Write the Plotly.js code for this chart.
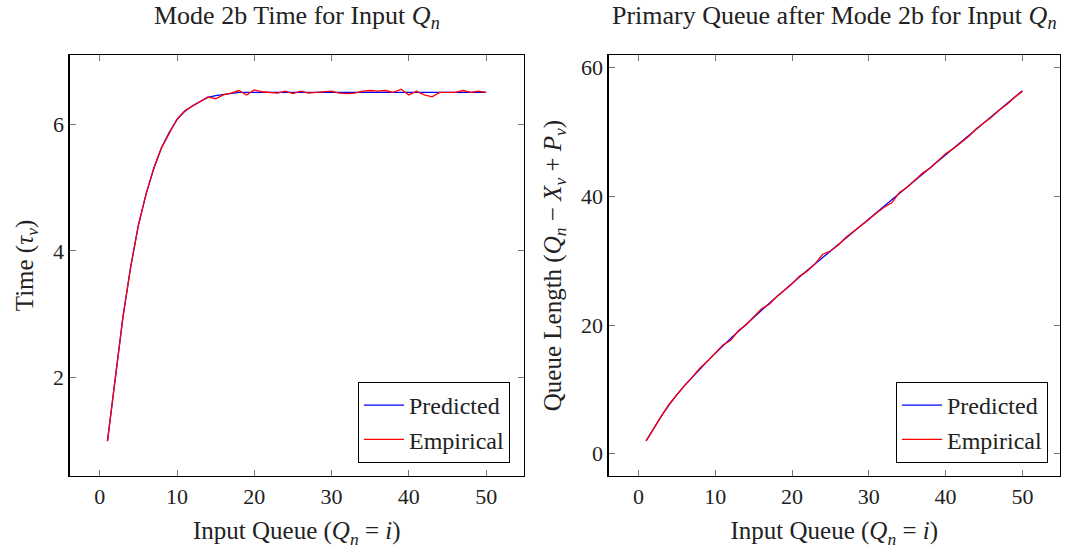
<!DOCTYPE html>
<html>
<head>
<meta charset="utf-8">
<script src="https://cdn.plot.ly/plotly-3.0.1.min.js"></script>
<style>html,body{margin:0;padding:0;background:#fff;}#chart{width:1065px;height:550px;}</style>
</head>
<body>
<div id="chart"></div>
<script>
const inputQueue = [1,2,3,4,5,6,7,8,9,10,11,12,13,14,15,16,17,18,19,20,21,22,23,24,25,26,27,28,29,30,31,32,33,34,35,36,37,38,39,40,41,42,43,44,45,46,47,48,49,50];

const predictedTime = [1.00,2.00,2.95,3.75,4.40,4.90,5.30,5.63,5.87,6.07,6.20,6.29,6.36,6.42,6.45,6.47,6.49,6.50,6.50,6.50,
  6.50,6.50,6.50,6.50,6.50,6.50,6.50,6.50,6.50,6.50,6.50,6.50,6.50,6.50,6.50,6.50,6.50,6.50,6.50,6.50,
  6.50,6.50,6.50,6.50,6.50,6.50,6.50,6.50,6.50,6.50];
const empiricalTime = [1.00,2.00,2.96,3.74,4.41,4.90,5.31,5.63,5.86,6.08,6.21,6.28,6.36,6.43,6.40,6.46,6.49,6.53,6.46,6.54,
  6.51,6.50,6.49,6.52,6.48,6.52,6.49,6.50,6.51,6.52,6.49,6.48,6.49,6.52,6.53,6.52,6.53,6.50,6.55,6.46,
  6.52,6.46,6.43,6.50,6.50,6.50,6.53,6.50,6.52,6.50];

const predictedQueue = [2.0,4.0,5.9,7.6,9.2,10.6,11.9,13.2,14.4,15.6,16.8,17.9,19.0,20.1,21.2,22.3,23.3,24.4,25.4,26.5,
  27.5,28.5,29.5,30.5,31.5,32.5,33.5,34.5,35.5,36.5,37.5,38.5,39.5,40.5,41.5,42.5,43.5,44.5,45.5,46.5,
  47.4,48.4,49.4,50.4,51.4,52.4,53.4,54.4,55.4,56.4];
const empiricalQueue = [2.0,4.0,5.9,7.7,9.2,10.6,11.9,13.3,14.4,15.6,16.9,17.6,19.1,20.0,21.2,22.5,23.2,24.4,25.4,26.4,
  27.6,28.4,29.5,31.0,31.5,32.4,33.6,34.5,35.4,36.4,37.4,38.3,39.0,40.6,41.4,42.5,43.6,44.4,45.5,46.6,
  47.4,48.3,49.3,50.5,51.4,52.3,53.4,54.3,55.4,56.3];

const xTicks = [0,10,20,30,40,50];
const timeTicks = [2,4,6];
const queueTicks = [0,20,40,60];

const FONT = 'Liberation Serif, DejaVu Serif, serif';
const TXT = '#222';
const BLUE = 'rgb(0,0,255)', RED = 'rgb(255,0,0)';

const traces = [
  {x: inputQueue, y: predictedTime, type: 'scatter', mode: 'lines', name: 'Predicted', line: {color: BLUE, width: 1.3}, xaxis: 'x', yaxis: 'y', legend: 'legend'},
  {x: inputQueue, y: empiricalTime, type: 'scatter', mode: 'lines', name: 'Empirical', line: {color: RED, width: 1.3}, xaxis: 'x', yaxis: 'y', legend: 'legend'},
  {x: inputQueue, y: predictedQueue, type: 'scatter', mode: 'lines', name: 'Predicted', line: {color: BLUE, width: 1.3}, xaxis: 'x2', yaxis: 'y2', legend: 'legend2'},
  {x: inputQueue, y: empiricalQueue, type: 'scatter', mode: 'lines', name: 'Empirical', line: {color: RED, width: 1.3}, xaxis: 'x2', yaxis: 'y2', legend: 'legend2'}
];

function xAxis(domain, anchor) {
  return {
    domain: domain, anchor: anchor, range: [-3.9, 54.9],
    tickvals: xTicks, ticktext: xTicks.map(String),
    ticks: 'inside', ticklen: 6, tickcolor: '#777', tickwidth: 1,
    showline: true, linecolor: '#000', linewidth: 1.2, mirror: 'ticks',
    showgrid: false, zeroline: false,
    tickfont: {family: FONT, size: 22, color: TXT},
    title: {text: 'Input Queue (<i>Q</i><sub><i>n</i></sub> = <i>i</i>)', font: {family: FONT, size: 25, color: TXT}, standoff: 14}
  };
}
function yAxis(domain, anchor, range, ticks, title) {
  return {
    domain: domain, anchor: anchor, range: range,
    tickvals: ticks, ticktext: ticks.map(String),
    ticks: 'inside', ticklen: 6, tickcolor: '#777', tickwidth: 1,
    showline: true, linecolor: '#000', linewidth: 1.2, mirror: 'ticks',
    showgrid: false, zeroline: false,
    tickfont: {family: FONT, size: 22, color: TXT},
    title: {text: title, font: {family: FONT, size: 25, color: TXT}, standoff: 12}
  };
}

const yDom = [1 - 476/550, 1 - 55/550];
const legendBase = {xanchor: 'right', yanchor: 'bottom', bgcolor: '#fff', bordercolor: '#000', borderwidth: 1,
  font: {family: FONT, size: 24, color: TXT}, tracegroupgap: 0, itemwidth: 40};
const layout = {
  width: 1065, height: 550,
  margin: {l: 0, r: 0, t: 0, b: 0},
  paper_bgcolor: '#fff', plot_bgcolor: '#fff',
  xaxis: xAxis([69.6/1065, 524/1065], 'y'),
  yaxis: yAxis(yDom, 'x', [0.45, 7.09], timeTicks, 'Time (<i>τ</i><sub><i>ν</i></sub>)'),
  xaxis2: xAxis([608.5/1065, 1060/1065], 'y2'),
  yaxis2: yAxis(yDom, 'x2', [-3.45, 61.95], queueTicks, 'Queue Length (<i>Q</i><sub><i>n</i></sub> − <i>X</i><sub><i>ν</i></sub> + <i>P</i><sub><i>ν</i></sub>)'),
  legend: Object.assign({x: 510/1065, y: 1 - 463/550}, legendBase),
  legend2: Object.assign({x: 1048/1065, y: 1 - 463/550}, legendBase),
  showlegend: true,
  annotations: [
    {text: 'Mode 2b Time for Input <i>Q</i><sub><i>n</i></sub>', xref: 'paper', yref: 'paper', x: 297/1065, y: 1 - 17/550, xanchor: 'center', yanchor: 'middle', showarrow: false, font: {family: FONT, size: 26, color: TXT}},
    {text: 'Primary Queue after Mode 2b for Input <i>Q</i><sub><i>n</i></sub>', xref: 'paper', yref: 'paper', x: 834/1065, y: 1 - 17/550, xanchor: 'center', yanchor: 'middle', showarrow: false, font: {family: FONT, size: 26, color: TXT}}
  ]
};

Plotly.newPlot('chart', traces, layout, {displayModeBar: false, staticPlot: true});
</script>
</body>
</html>
